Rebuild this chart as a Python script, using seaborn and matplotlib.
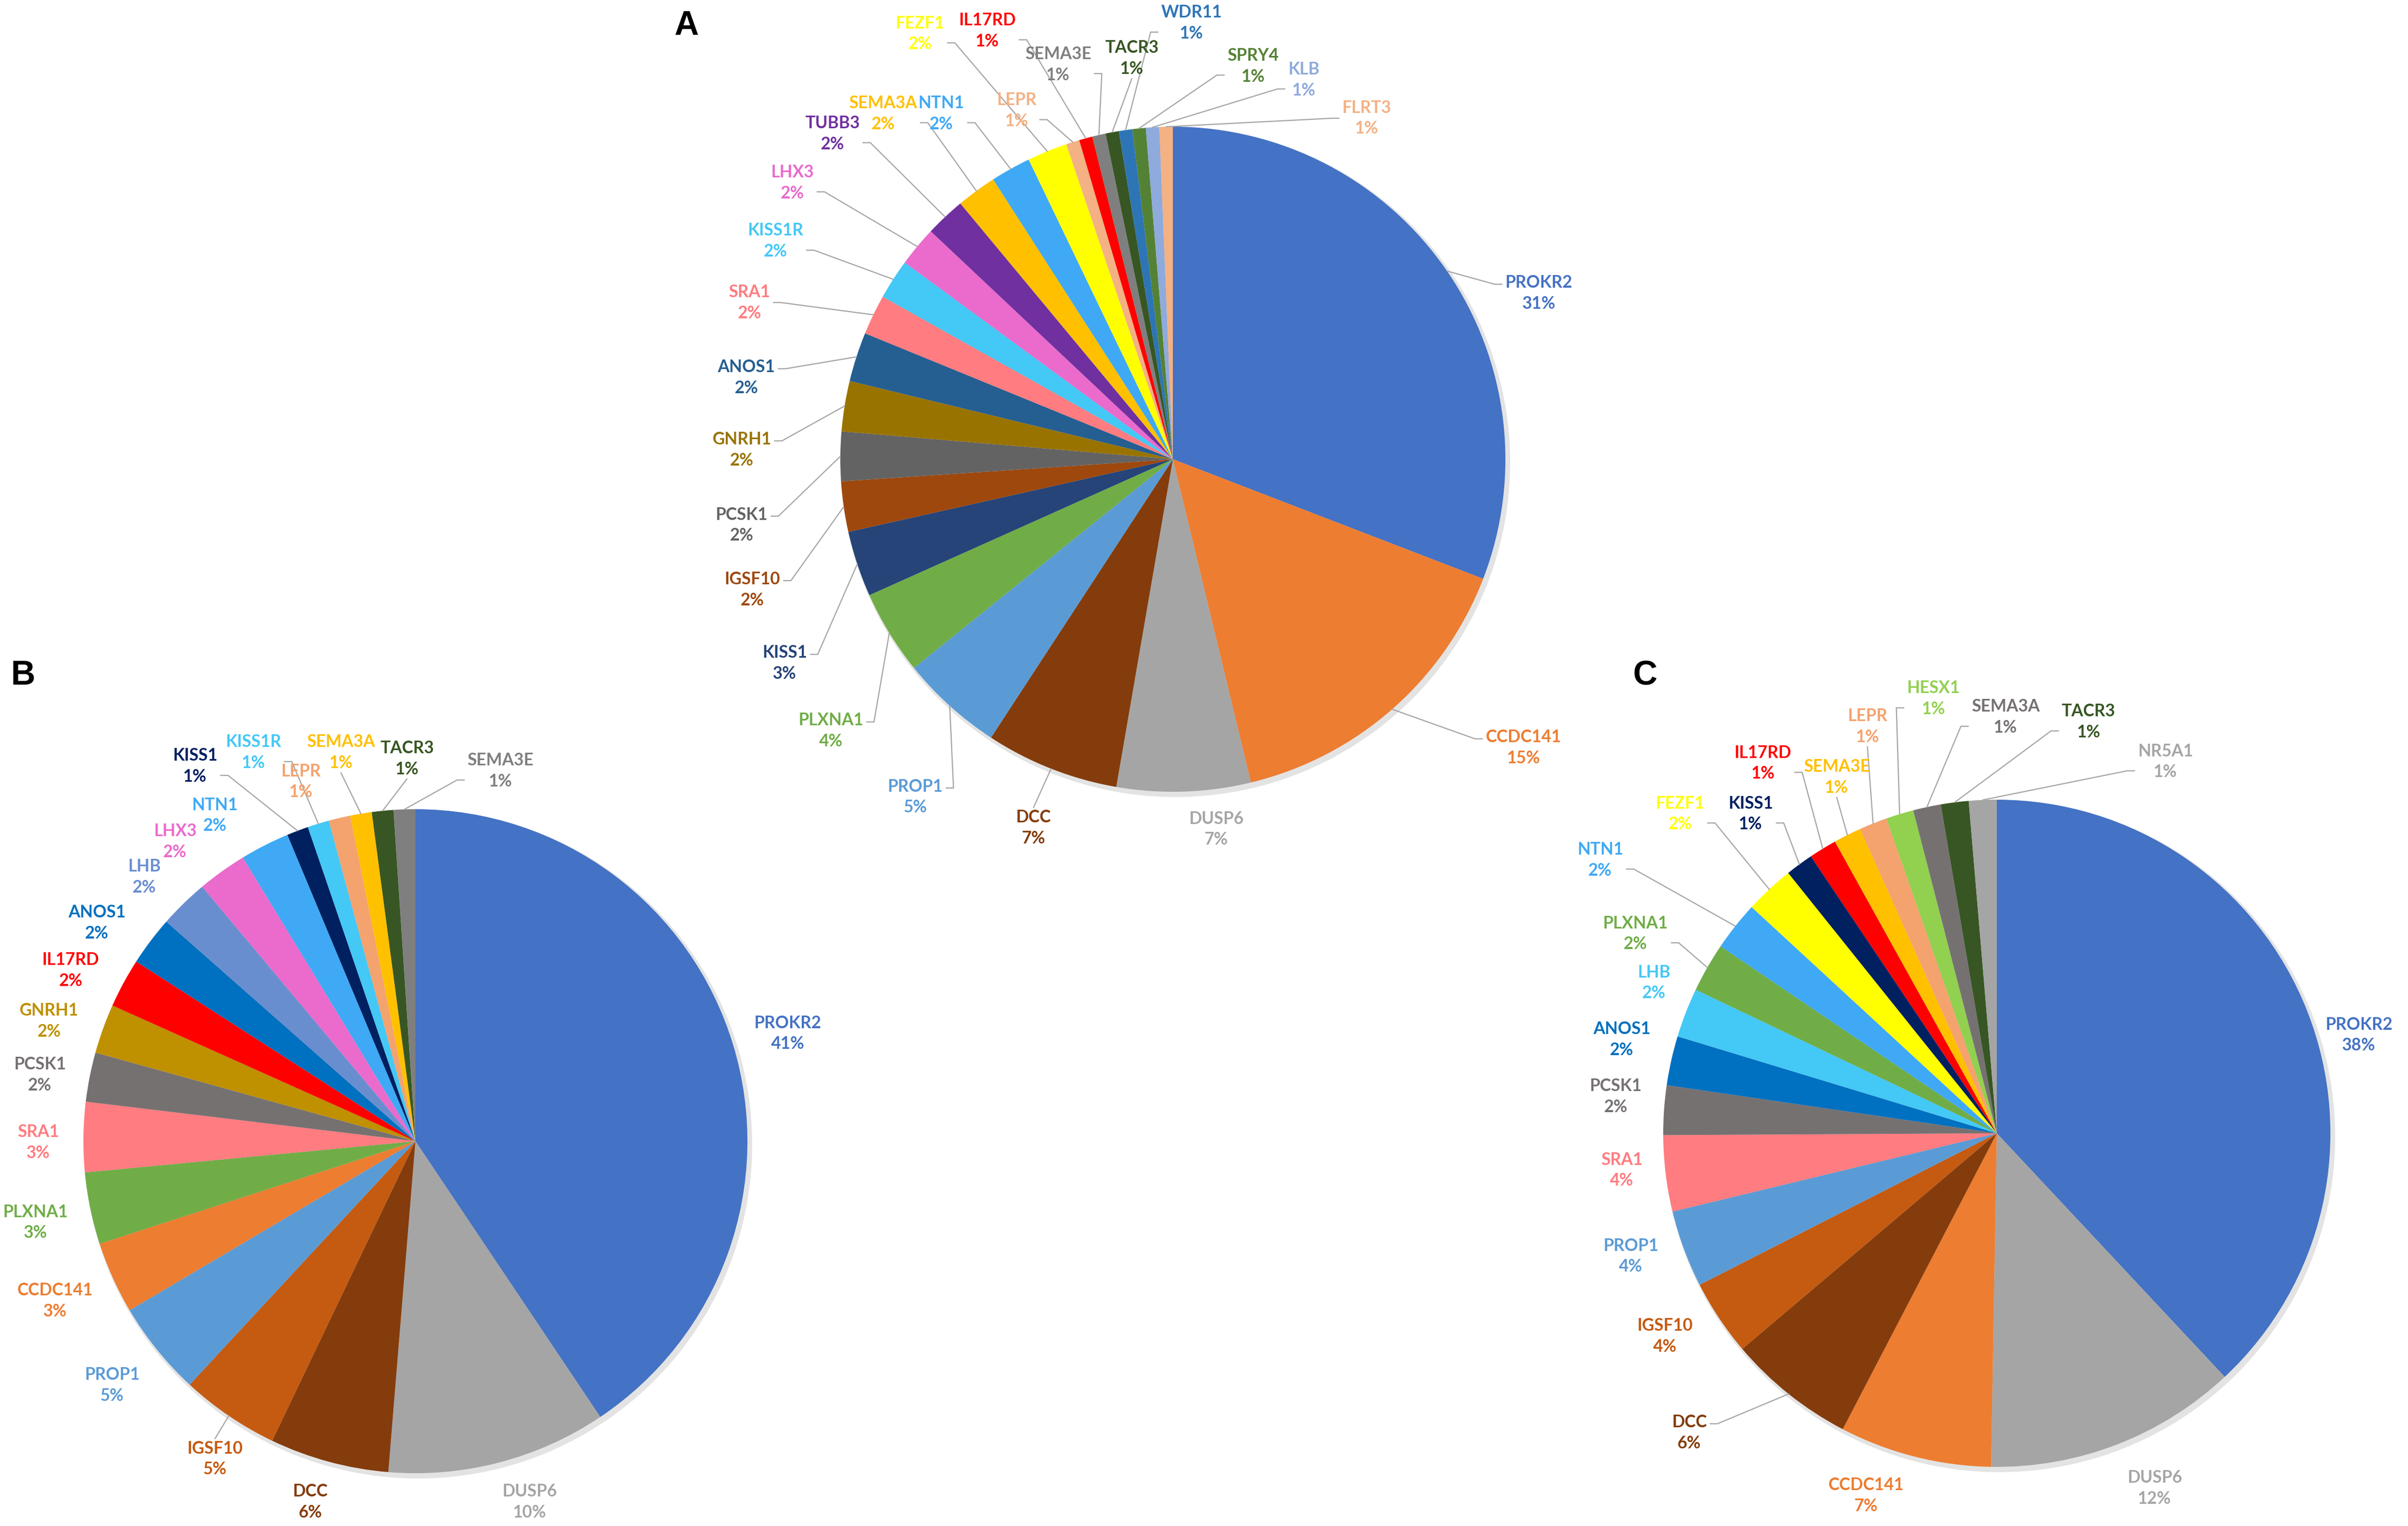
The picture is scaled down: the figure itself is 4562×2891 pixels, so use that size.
import matplotlib
matplotlib.use("Agg")
import matplotlib.pyplot as plt
import seaborn as sns
import numpy as np
from matplotlib.patches import Circle

# ---------------- data ----------------
# Panel A
a_genes = ["PROKR2", "CCDC141", "DUSP6", "DCC", "PROP1", "PLXNA1", "KISS1", "IGSF10",
           "PCSK1", "GNRH1", "ANOS1", "SRA1", "KISS1R", "LHX3", "TUBB3", "SEMA3A",
           "NTN1", "FEZF1", "LEPR", "IL17RD", "SEMA3E", "TACR3", "WDR11", "SPRY4",
           "KLB", "FLRT3"]
a_values = [30.9, 15.4, 6.5, 6.5, 5.0, 4.1, 3.2, 2.45,
            2.4, 2.45, 2.4, 1.95, 1.95, 1.95, 1.95, 1.95,
            1.95, 1.95, 0.65, 0.65, 0.65, 0.65, 0.65, 0.65,
            0.65, 0.65]
a_pct = ["31%", "15%", "7%", "7%", "5%", "4%", "3%", "2%",
         "2%", "2%", "2%", "2%", "2%", "2%", "2%", "2%",
         "2%", "2%", "1%", "1%", "1%", "1%", "1%", "1%",
         "1%", "1%"]

# Panel B
b_genes = ["PROKR2", "DUSP6", "DCC", "IGSF10", "PROP1", "CCDC141", "PLXNA1", "SRA1",
           "PCSK1", "GNRH1", "IL17RD", "ANOS1", "LHB", "LHX3", "NTN1", "KISS1",
           "KISS1R", "LEPR", "SEMA3A", "TACR3", "SEMA3E"]
b_values = [40.6, 10.7, 5.8, 4.8, 4.6, 3.5, 3.5, 3.4,
            2.4, 2.4, 2.4, 2.4, 2.4, 2.4, 2.4, 1.05,
            1.05, 1.05, 1.05, 1.05, 1.05]
b_pct = ["41%", "10%", "6%", "5%", "5%", "3%", "3%", "3%",
         "2%", "2%", "2%", "2%", "2%", "2%", "2%", "1%",
         "1%", "1%", "1%", "1%", "1%"]

# Panel C
c_genes = ["PROKR2", "DUSP6", "CCDC141", "DCC", "IGSF10", "PROP1", "SRA1", "PCSK1",
           "ANOS1", "LHB", "PLXNA1", "NTN1", "FEZF1", "KISS1", "IL17RD", "SEMA3E",
           "LEPR", "HESX1", "SEMA3A", "TACR3", "NR5A1"]
c_values = [38.2, 12.3, 7.4, 6.2, 3.7, 3.75, 3.7, 2.4,
            2.4, 2.4, 2.4, 2.4, 2.4, 1.35, 1.35, 1.35,
            1.35, 1.35, 1.35, 1.35, 1.35]
c_pct = ["38%", "12%", "7%", "6%", "4%", "4%", "4%", "2%",
         "2%", "2%", "2%", "2%", "2%", "1%", "1%", "1%",
         "1%", "1%", "1%", "1%", "1%"]

# ---------------- styles ----------------
a_colors = ["#4472C4", "#ED7D31", "#A5A5A5", "#843C0C", "#5B9BD5", "#70AD47", "#264478", "#9E480E",
            "#636363", "#997300", "#255E91", "#FF7C80", "#44C8F5", "#EA6BCC", "#7030A0", "#FFC000",
            "#3FA9F5", "#FFFF00", "#F4B183", "#FF0000", "#7F7F7F", "#375623", "#2E75B6", "#548235",
            "#8FAADC", "#F4B183"]
b_colors = ["#4472C4", "#A5A5A5", "#843C0C", "#C55A11", "#5B9BD5", "#ED7D31", "#70AD47", "#FF7C80",
            "#767171", "#BF9000", "#FF0000", "#0070C0", "#698ED0", "#EA6BCC", "#3FA9F5", "#002060",
            "#44C8F5", "#F4A26E", "#FFC000", "#375623", "#7F7F7F"]
c_colors = ["#4472C4", "#A5A5A5", "#ED7D31", "#843C0C", "#C55A11", "#5B9BD5", "#FF7C80", "#767171",
            "#0070C0", "#44C8F5", "#70AD47", "#3FA9F5", "#FFFF00", "#002060", "#FF0000", "#FFC000",
            "#F4A26E", "#92D050", "#767171", "#375623", "#A5A5A5"]

W, H = 4562, 2891
S = W / 1568.0  # reference preview units -> output pixels

# label centres (preview units)
a_label_pos = {
    "PROKR2": (1002, 191), "CCDC141": (992, 487), "DUSP6": (792, 540), "DCC": (673, 539),
    "PROP1": (596, 519), "PLXNA1": (541, 476), "KISS1": (511, 432), "IGSF10": (490, 384),
    "PCSK1": (483, 342), "GNRH1": (483, 293), "ANOS1": (486, 246), "SRA1": (488, 197),
    "KISS1R": (505, 157), "LHX3": (516, 119), "TUBB3": (542, 87), "SEMA3A": (575, 74),
    "NTN1": (613, 74), "FEZF1": (599, 22), "LEPR": (662, 72), "IL17RD": (643, 20),
    "SEMA3E": (689, 42), "TACR3": (737, 38), "WDR11": (776, 15), "SPRY4": (816, 43),
    "KLB": (849, 52), "FLRT3": (890, 77),
}
b_label_pos = {
    "PROKR2": (513, 673), "DUSP6": (345, 978), "DCC": (202, 978), "IGSF10": (140, 950),
    "PROP1": (73, 902), "CCDC141": (36, 847), "PLXNA1": (23, 796), "SRA1": (25, 744),
    "PCSK1": (26, 700), "GNRH1": (32, 665), "IL17RD": (46, 632), "ANOS1": (63, 601),
    "LHB": (94, 571), "LHX3": (114, 548), "NTN1": (140, 531), "KISS1": (127, 499),
    "KISS1R": (165, 490), "LEPR": (196, 509), "SEMA3A": (222, 490), "TACR3": (265, 494),
    "SEMA3E": (326, 502),
}
c_label_pos = {
    "PROKR2": (1536, 674), "DUSP6": (1403, 969), "CCDC141": (1215, 974), "DCC": (1100, 933),
    "IGSF10": (1084, 870), "PROP1": (1062, 818), "SRA1": (1056, 762), "PCSK1": (1052, 714),
    "ANOS1": (1056, 677), "LHB": (1077, 640), "PLXNA1": (1065, 608), "NTN1": (1042, 560),
    "FEZF1": (1094, 530), "KISS1": (1140, 530), "IL17RD": (1148, 497), "SEMA3E": (1196, 506),
    "LEPR": (1216, 473), "HESX1": (1259, 455), "SEMA3A": (1306, 467), "TACR3": (1360, 470),
    "NR5A1": (1410, 496),
}
a_no_leader = {"DUSP6"}
b_no_leader = {"PROKR2", "DUSP6", "DCC", "PROP1", "CCDC141", "PLXNA1", "SRA1", "PCSK1",
               "GNRH1", "IL17RD", "ANOS1", "LHB", "LHX3", "NTN1", "LEPR"}
c_no_leader = {"PROKR2", "DUSP6", "CCDC141", "IGSF10", "PROP1", "SRA1", "PCSK1", "ANOS1", "LHB"}

# ---------------- figure ----------------
sns.set_theme(style="white")
plt.rcParams["font.family"] = ["Lato", "DejaVu Sans"]

fig = plt.figure(figsize=(W / 100, H / 100), dpi=100)
fig.patch.set_facecolor("white")
ax = fig.add_axes([0, 0, 1, 1])

LABEL_FS = 23


def draw_pie(genes, values, pcts, colors, center_px, radius, label_pos, no_leader):
    cx, cy = center_px[0], H - center_px[1]
    # soft shadow
    ax.add_patch(Circle((cx + 5, cy - 6), radius + 4, color="#E3E3E3", lw=0, zorder=0))
    wedges, _ = ax.pie(values, colors=colors, startangle=90, counterclock=False,
                       center=(cx, cy), radius=radius, frame=True,
                       wedgeprops=dict(linewidth=0))
    items = []
    for g, w, p, col in zip(genes, wedges, pcts, colors):
        w.set_zorder(2)
        lx, ly = label_pos[g]
        t = ax.text(lx * S, H - ly * S, f"{g}\n{p}", ha="center", va="center",
                    multialignment="center", fontsize=LABEL_FS, fontweight="bold",
                    color=col, linespacing=1.45, zorder=5)
        mid = np.deg2rad((w.theta1 + w.theta2) / 2.0)
        edge = (cx + radius * np.cos(mid), cy + radius * np.sin(mid))
        items.append((t, edge, g not in no_leader))
    return items


items = []
items += draw_pie(a_genes, a_values, a_pct, a_colors, (2222, 870), 630, a_label_pos, a_no_leader)
items += draw_pie(b_genes, b_values, b_pct, b_colors, (787, 2162), 629, b_label_pos, b_no_leader)
items += draw_pie(c_genes, c_values, c_pct, c_colors, (3783, 2147), 632, c_label_pos, c_no_leader)

for letter, (px, py) in {"A": (447, 17), "B": (15, 440), "C": (1071, 440)}.items():
    ax.text(px * S, H - py * S, letter, ha="center", va="center", fontsize=46,
            fontweight="bold", family=["Liberation Sans", "DejaVu Sans"], color="black")

ax.set_xlim(0, W)
ax.set_ylim(0, H)
ax.set_aspect("equal")
ax.axis("off")

# leader lines
fig.canvas.draw()
renderer = fig.canvas.get_renderer()
inv = ax.transData.inverted()
for t, (ex, ey), show in items:
    if not show:
        continue
    bb = t.get_window_extent(renderer)
    (x0, y0), (x1, y1) = inv.transform([(bb.x0, bb.y0), (bb.x1, bb.y1)])
    hgt = y1 - y0
    if ex > x1 or ex < x0:
        side = 1 if ex > x1 else -1
        sx = x1 + 6 if side > 0 else x0 - 6
        if ey < y0:
            sy = y0 + 0.25 * hgt
        elif ey > y1:
            sy = y1 - 0.25 * hgt
        else:
            sy = (y0 + y1) / 2
        pts = [(sx, sy), (sx + side * 14, sy), (ex, ey)]
    else:
        sx = (x0 + x1) / 2
        sy = y0 - 4 if ey < y0 else y1 + 4
        pts = [(sx, sy), (ex, ey)]
    xs, ys = zip(*pts)
    ax.plot(xs, ys, color="#A6A6A6", lw=1.6, zorder=4, solid_joinstyle="miter")

fig.savefig("out.png", dpi=100, facecolor="white")
